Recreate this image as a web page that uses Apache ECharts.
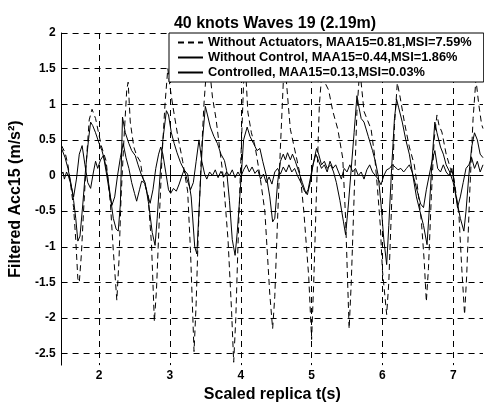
<!DOCTYPE html>
<html>
<head>
<meta charset="utf-8">
<script src="https://cdn.jsdelivr.net/npm/echarts@6/dist/echarts.min.js"></script>
<style>html,body{margin:0;padding:0;background:#fff}#c{width:484px;height:408px}</style>
</head>
<body>
<div id="c"></div>
<script>
// Without Actuators (dashed)
var tA = [1.47,1.52,1.56,1.60,1.64,1.67,1.70,1.72,1.75,1.78,1.82,1.86,1.90,1.95,2.03,2.10,2.16,2.20,2.25,2.28,2.31,2.35,2.39,2.41,2.44,2.49,2.53,2.58,2.62,2.69,2.74,2.78,2.81,2.85,2.89,2.93,2.97,3.00,3.04,3.11,3.18,3.25,3.29,3.34,3.37,3.40,3.44,3.48,3.52,3.56,3.60,3.65,3.70,3.75,3.82,3.87,3.90,3.93,3.96,4.00,4.04,4.07,4.10,4.15,4.20,4.27,4.34,4.41,4.45,4.48,4.52,4.56,4.60,4.63,4.67,4.70,4.78,4.84,4.89,4.96,5.00,5.03,5.07,5.11,5.15,5.19,5.24,5.30,5.37,5.44,5.48,5.53,5.56,5.60,5.64,5.68,5.74,5.84,5.89,5.93,5.97,6.00,6.06,6.09,6.13,6.17,6.21,6.25,6.31,6.38,6.45,6.50,6.55,6.59,6.62,6.65,6.69,6.73,6.77,6.80,6.84,6.90,6.96,7.01,7.08,7.12,7.16,7.19,7.23,7.28,7.32,7.36,7.40,7.42];
var vA = [0.42,0.32,0.15,-0.15,-0.45,-0.9,-1.45,-1.5,-1.1,-0.5,0.2,0.78,0.93,0.8,0.42,0.2,-0.4,-1.05,-1.75,-1.2,-0.3,0.5,1.2,1.31,0.75,0.4,0.28,0.2,-0.04,-0.27,-0.97,-2.05,-1.6,-0.6,0.3,1.0,1.5,1.25,0.98,0.56,0.2,-0.22,-1.05,-2.47,-1.8,-0.8,0.2,1.0,1.55,1.5,1.1,0.8,0.4,0.0,-0.9,-1.9,-2.62,-2.0,-1.0,0.2,1.3,1.45,0.89,0.6,0.42,0.0,-0.5,-1.67,-2.15,-1.7,-0.6,0.4,1.3,1.5,1.0,0.65,0.28,0.0,-0.5,-1.43,-2.3,-1.5,-0.2,1.0,1.5,1.3,1.2,0.9,0.65,0.24,-0.6,-2.15,-1.5,-0.3,0.9,1.5,0.9,0.65,0.28,-0.18,-0.7,-1.33,-1.95,-1.5,-0.4,0.7,1.3,1.1,0.75,0.4,0.15,-0.2,-0.64,-1.2,-1.77,-1.3,-0.3,0.5,0.85,0.7,0.61,0.3,0.1,-0.04,-0.55,-1.3,-1.95,-1.4,-0.3,0.8,1.35,1.0,0.72,0.66];

// Without Control (solid)
var tB = [1.47,1.52,1.56,1.60,1.64,1.67,1.70,1.73,1.77,1.81,1.85,1.88,1.91,1.95,2.00,2.04,2.08,2.12,2.16,2.20,2.24,2.27,2.30,2.33,2.37,2.42,2.46,2.51,2.55,2.60,2.65,2.70,2.75,2.79,2.82,2.86,2.90,2.95,2.98,3.02,3.06,3.10,3.15,3.20,3.25,3.30,3.35,3.38,3.42,3.46,3.50,3.53,3.57,3.62,3.67,3.72,3.77,3.80,3.84,3.88,3.92,3.95,3.99,4.04,4.09,4.13,4.18,4.23,4.27,4.31,4.36,4.41,4.45,4.48,4.52,4.56,4.60,4.63,4.66,4.70,4.73,4.77,4.82,4.87,4.92,4.95,4.99,5.03,5.07,5.10,5.14,5.18,5.22,5.27,5.31,5.35,5.40,5.45,5.48,5.52,5.56,5.60,5.64,5.67,5.70,5.74,5.80,5.86,5.90,5.94,5.98,6.02,6.06,6.09,6.13,6.17,6.20,6.23,6.28,6.33,6.38,6.43,6.48,6.53,6.58,6.63,6.66,6.70,6.74,6.77,6.82,6.86,6.90,6.95,7.00,7.05,7.10,7.15,7.18,7.22,7.26,7.30,7.34,7.38,7.42];
var vB = [0.38,0.25,0.1,-0.1,-0.35,-0.6,-0.92,-0.85,-0.4,0.1,0.5,0.75,0.7,0.6,0.45,0.35,0.2,0.0,-0.3,-0.6,-0.75,-0.78,-0.4,0.82,0.6,0.45,0.35,0.28,0.15,0.0,-0.1,-0.4,-0.8,-0.98,-0.6,0.0,0.5,0.91,0.85,0.6,0.45,0.32,0.18,0.08,0.02,-0.3,-1.0,-1.1,-0.3,0.5,0.97,0.85,0.68,0.55,0.45,0.3,0.21,0.07,-0.35,-0.9,-1.12,-0.8,-0.25,0.5,0.68,0.55,0.45,0.35,0.38,0.2,0.0,-0.3,-0.65,-0.6,-0.1,0.2,0.3,0.22,0.32,0.22,0.3,0.2,0.05,-0.1,-0.25,-0.2,0.0,0.2,0.38,0.3,0.15,0.2,0.1,0.15,0.05,-0.1,-0.35,-0.65,-0.83,-0.4,0.1,0.6,1.12,0.95,0.8,0.75,0.55,0.35,0.2,0.0,-0.4,-0.9,-1.25,-0.7,0.1,0.8,1.07,0.95,0.75,0.5,0.3,0.0,-0.3,-0.5,-0.7,-0.97,-0.5,0.2,0.75,0.6,0.4,0.3,0.15,0.05,-0.1,-0.35,-0.6,-0.78,-0.5,0.0,0.4,0.6,0.5,0.3,0.25];

// Controlled (solid)
var tC = [1.47,1.49,1.51,1.54,1.57,1.60,1.64,1.68,1.72,1.76,1.80,1.84,1.88,1.92,1.95,1.98,2.02,2.06,2.10,2.14,2.18,2.22,2.26,2.30,2.34,2.38,2.42,2.46,2.50,2.53,2.57,2.60,2.64,2.68,2.72,2.76,2.80,2.84,2.87,2.90,2.94,2.98,3.01,3.05,3.09,3.13,3.17,3.20,3.24,3.29,3.33,3.37,3.41,3.45,3.49,3.52,3.56,3.60,3.64,3.68,3.72,3.76,3.80,3.84,3.88,3.92,3.96,4.00,4.04,4.08,4.12,4.16,4.20,4.24,4.28,4.32,4.36,4.40,4.44,4.48,4.52,4.56,4.60,4.64,4.68,4.72,4.76,4.80,4.85,4.90,4.94,4.98,5.02,5.06,5.10,5.14,5.18,5.22,5.26,5.30,5.34,5.38,5.42,5.46,5.50,5.54,5.58,5.62,5.66,5.70,5.74,5.78,5.82,5.86,5.90,5.94,5.98,6.02,6.06,6.10,6.14,6.18,6.22,6.26,6.30,6.34,6.38,6.42,6.46,6.50,6.54,6.58,6.62,6.66,6.70,6.74,6.78,6.82,6.86,6.90,6.94,6.98,7.02,7.06,7.10,7.14,7.18,7.22,7.26,7.30,7.34,7.38,7.42];
var vC = [0.02,0.05,-0.05,0.05,-0.02,-0.12,-0.3,-0.05,0.3,0.42,0.15,-0.1,-0.18,0.05,0.2,0.1,0.22,0.28,0.05,-0.2,-0.42,-0.3,0.0,0.25,0.45,0.25,0.1,-0.1,-0.25,-0.36,-0.2,-0.08,-0.1,-0.25,-0.39,-0.2,0.1,0.3,0.4,0.3,0.05,-0.2,-0.25,-0.18,-0.22,-0.12,0.0,0.08,-0.05,-0.2,-0.1,0.2,0.5,0.2,0.02,-0.05,0.05,0.0,0.08,-0.03,0.06,-0.02,0.05,0.0,0.08,-0.03,0.05,-0.02,0.08,0.15,0.05,0.12,0.03,0.08,-0.05,0.02,-0.1,-0.02,-0.12,0.05,0.1,0.02,0.12,0.05,0.15,0.05,0.1,0.0,-0.1,-0.22,-0.27,-0.1,0.15,0.3,0.2,0.1,0.15,0.05,0.2,0.1,0.15,0.05,-0.05,0.1,0.05,0.15,0.05,0.1,0.0,0.05,-0.05,0.08,0.15,0.05,0.0,-0.05,-0.13,0.0,0.08,0.1,0.15,0.12,0.08,0.1,0.05,0.1,0.15,0.05,-0.1,-0.25,-0.4,-0.45,-0.2,0.0,0.2,0.35,0.1,0.05,0.15,0.05,0.0,0.1,-0.15,-0.45,-0.3,-0.1,0.1,0.15,0.25,0.1,0.2,0.05,0.15];

var seriesNames = ['Without Actuators, MAA15=0.81,MSI=7.59%','Without Control, MAA15=0.44,MSI=1.86%','Controlled, MAA15=0.13,MSI=0.03%'];
var titleText = '40 knots Waves 19 (2.19m)';
var xName = 'Scaled replica t(s)';
var yName = 'Filtered Acc15 (m/s²)';

function pairs(t, v) { return t.map(function (x, i) { return [x, v[i]]; }); }

var FONT = 'Liberation Sans, Arial, sans-serif';
var gridDash = { color: '#000', width: 1, type: [6, 5] };
var clear = 'rgba(0,0,0,0)';

var chart = echarts.init(document.getElementById('c'), null, { renderer: 'canvas' });
chart.setOption({
  animation: false,
  backgroundColor: '#fff',
  title: {
    text: titleText, left: 270, top: 11, textAlign: 'center',
    textStyle: { fontFamily: FONT, fontSize: 16, fontWeight: 'bold', color: '#000' }
  },
  legend: {
    left: 169, top: 33, orient: 'vertical',
    padding: [3, 12, 3, 8],
    itemWidth: 25, itemHeight: 10, itemGap: 2,
    backgroundColor: '#fff', borderColor: '#000', borderWidth: 1, borderRadius: 0,
    selectedMode: false, z: 10,
    itemStyle: { color: clear, borderColor: clear, borderWidth: 0 },
    textStyle: { fontFamily: FONT, fontSize: 12.8, fontWeight: 'bold', color: '#000', lineHeight: 13 },
    data: seriesNames
  },
  grid: { left: 58, right: 1, top: 33, bottom: 39, containLabel: false },
  xAxis: {
    type: 'value', min: 1.47, max: 7.42, splitNumber: 6, minInterval: 1, maxInterval: 1,
    name: xName, nameLocation: 'middle', nameGap: 20,
    nameTextStyle: { fontFamily: FONT, fontSize: 16, fontWeight: 'bold', color: '#000' },
    axisLine: { show: true, lineStyle: { color: '#000', width: 1 } },
    axisTick: { show: true, inside: true, length: 5, lineStyle: { color: '#000' } },
    axisLabel: { showMinLabel: false, showMaxLabel: false, margin: 5, fontFamily: FONT, fontSize: 12, fontWeight: 'bold', color: '#000' },
    splitLine: { show: true, showMinLine: false, showMaxLine: false, lineStyle: gridDash }
  },
  yAxis: {
    type: 'value', min: -2.66, max: 2, splitNumber: 9, minInterval: 0.5, maxInterval: 0.5,
    name: yName, nameLocation: 'middle', nameGap: 31, nameRotate: 90,
    nameTextStyle: { fontFamily: FONT, fontSize: 16, fontWeight: 'bold', color: '#000' },
    axisLine: { show: true, lineStyle: { color: '#000', width: 1 } },
    axisTick: { show: true, inside: true, length: 5, lineStyle: { color: '#000' } },
    axisLabel: { showMinLabel: false, margin: 6, fontFamily: FONT, fontSize: 12, fontWeight: 'bold', color: '#000' },
    splitLine: { show: true, showMinLine: false, lineStyle: gridDash }
  },
  series: [
    { name: seriesNames[0], type: 'line', data: pairs(tA, vA), symbol: 'none', smooth: false,
      lineStyle: { color: '#000', width: 1, type: [6, 4] }, itemStyle: { color: '#000' } },
    { name: seriesNames[1], type: 'line', data: pairs(tB, vB), symbol: 'none',
      lineStyle: { color: '#000', width: 1, type: 'solid' }, itemStyle: { color: '#000' } },
    { name: seriesNames[2], type: 'line', data: pairs(tC, vC), symbol: 'none',
      lineStyle: { color: '#000', width: 1, type: 'solid' }, itemStyle: { color: '#000' } }
  ]
});
</script>
</body>
</html>
